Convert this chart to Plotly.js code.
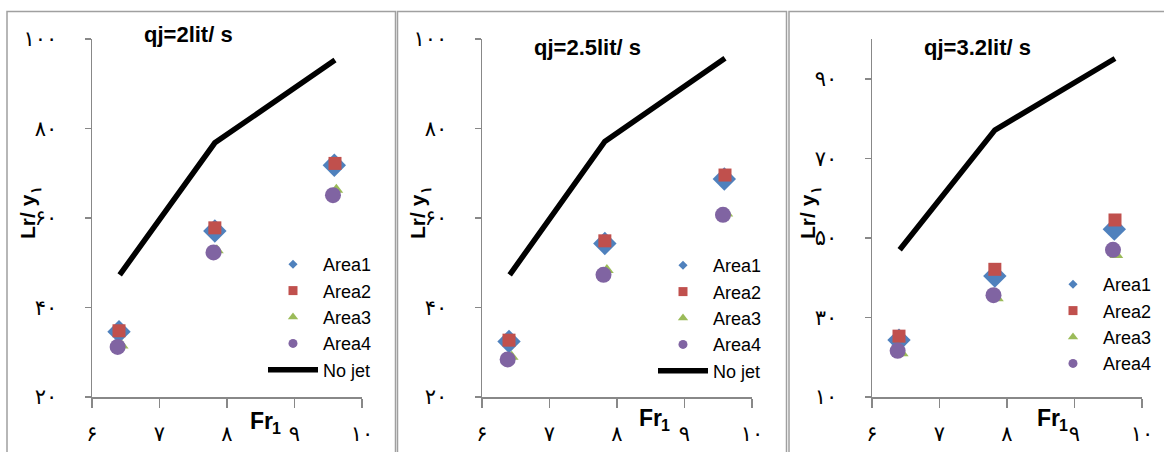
<!DOCTYPE html>
<html><head><meta charset="utf-8">
<script src="https://cdn.plot.ly/plotly-3.0.1.min.js"></script>
<style>html,body{margin:0;padding:0;background:#fff}</style>
</head><body><div id="chart" style="width:1164px;height:452px"></div>
<script>
// ---- data ----
const panelTitles = ['qj=2lit/ s', 'qj=2.5lit/ s', 'qj=3.2lit/ s'];
const seriesNames = ['Area1', 'Area2', 'Area3', 'Area4'];
const noJetName = 'No jet';
const noJetFr = [6.41, 7.82, 9.6];
const noJet_p1 = [47.3, 76.8, 95.3];
const noJet_p2 = [47.3, 77.1, 95.7];
const noJet_p3 = [47.0, 77.1, 95.1];
const fr_area1 = [6.40, 7.82, 9.59];
const fr_area2 = [6.40, 7.82, 9.60];
const fr_area3 = [6.44, 7.85, 9.62];
const fr_area4 = [6.38, 7.80, 9.57];
const p1_area1 = [34.6, 57.1, 71.8];
const p1_area2 = [34.8, 57.8, 72.2];
const p1_area3 = [31.5, 52.8, 66.3];
const p1_area4 = [31.2, 52.3, 65.1];
const p2_area1 = [32.4, 54.3, 68.7];
const p2_area2 = [32.7, 54.9, 69.6];
const p2_area3 = [29.0, 48.4, 61.0];
const p2_area4 = [28.4, 47.3, 60.7];
const p3_area1 = [24.3, 40.4, 52.2];
const p3_area2 = [25.3, 42.1, 54.5];
const p3_area3 = [21.0, 34.8, 45.7];
const p3_area4 = [21.6, 35.6, 47.0];
const xTickVals = [6, 7, 8, 9, 10];
const xTickText = ['۶', '۷', '۸', '۹', '۱۰'];
const yTickVals12 = [20, 40, 60, 80, 100];
const yTickText12 = ['۲۰', '۴۰', '۶۰', '۸۰', '۱۰۰'];
const yTickVals3 = [10, 30, 50, 70, 90];
const yTickText3 = ['۱۰', '۳۰', '۵۰', '۷۰', '۹۰'];
const xTitleMain = 'Fr', xTitleSub = '1';
const yTitleMain = 'Lr/ y', yTitleSub = '۱';

// ---- styles ----
const W = 1164, H = 452;
const px = p => p / W, py = p => 1 - p / H;
const colors = ['#4F81BD', '#C0504D', '#9BBB59', '#8064A2'];
const symbols = ['diamond', 'square', 'triangle-up', 'circle'];
const sizes = [18, 13, 12, 16];
const legSizes = [7, 9, 9, 9];
const narrow = '"Liberation Sans Narrow", "Liberation Sans", Arial, sans-serif';
const arab = '"DejaVu Sans", sans-serif';

const panels = [
  {fr: [fr_area1, fr_area2, fr_area3, fr_area4], y: [p1_area1, p1_area2, p1_area3, p1_area4], nj: noJet_p1, showNoJet: true, legTop: 246},
  {fr: [fr_area1, fr_area2, fr_area3, fr_area4], y: [p2_area1, p2_area2, p2_area3, p2_area4], nj: noJet_p2, showNoJet: true, legTop: 247},
  {fr: [fr_area1, fr_area2, fr_area3, fr_area4], y: [p3_area1, p3_area2, p3_area3, p3_area4], nj: noJet_p3, showNoJet: false, legTop: 266}
];

const traces = [];
const layout = {
  width: W, height: H, autosize: false,
  margin: {l: 0, r: 0, t: 0, b: 0},
  paper_bgcolor: '#fff', plot_bgcolor: 'rgba(0,0,0,0)',
  showlegend: true,
  annotations: [], shapes: []
};

function ann(x, y, text, size, angle, bold) {
  layout.annotations.push({xref: 'paper', yref: 'paper', x: px(x), y: py(y), text: bold ? '<b>' + text + '</b>' : text,
    showarrow: false, textangle: angle || 0, xanchor: 'center', yanchor: 'middle',
    font: {family: narrow, size: size, color: '#000'}});
}

const offs = [0, 390, 780];
panels.forEach((pn, i) => {
  const s = i === 0 ? '' : String(i + 1);
  const xa = 'x' + s, ya = 'y' + s;
  const lg = 'legend' + s;
  traces.push({x: noJetFr, y: pn.nj, xaxis: xa, yaxis: ya, mode: 'lines', name: noJetName,
    line: {color: '#000', width: 5.5}, showlegend: false, hoverinfo: 'skip'});
  for (let k = 0; k < 4; k++) {
    traces.push({x: pn.fr[k], y: pn.y[k], xaxis: xa, yaxis: ya, mode: 'markers', name: seriesNames[k],
      marker: {color: colors[k], symbol: symbols[k], size: sizes[k], line: {width: 0}}, showlegend: false});
  }
  for (let k = 0; k < 4; k++) {
    traces.push({x: [null], y: [null], xaxis: xa, yaxis: ya, mode: 'markers', name: seriesNames[k], legend: lg,
      marker: {color: colors[k], symbol: symbols[k], size: legSizes[k], line: {width: 0}}});
  }
  if (pn.showNoJet) {
    traces.push({x: [null], y: [null], xaxis: xa, yaxis: ya, mode: 'lines', name: noJetName, legend: lg,
      line: {color: '#000', width: 5.5}});
  }
  const o = offs[i];
  layout['xaxis' + s] = {
    domain: [px(o + 92), px(o + 362)], anchor: ya, range: [6, 10],
    tickvals: xTickVals, ticktext: xTickText, ticks: 'outside', ticklen: 9, tickwidth: 1.5, tickcolor: '#888',
    showline: true, linecolor: '#888', linewidth: 1.5, showgrid: false, zeroline: false,
    ticklabelstandoff: 8, tickfont: {family: arab, size: 21, color: '#000'}, fixedrange: true
  };
  layout['yaxis' + s] = {
    domain: [py(397), py(39)], anchor: xa, range: i === 2 ? [10, 100] : [20, 100],
    tickvals: i === 2 ? yTickVals3 : yTickVals12, ticktext: i === 2 ? yTickText3 : yTickText12,
    ticks: 'outside', ticklen: 6, tickwidth: 1.5, tickcolor: '#888',
    showline: true, linecolor: '#888', linewidth: 1.5, showgrid: false, zeroline: false,
    ticklabelstandoff: 23, tickfont: {family: arab, size: 21, color: '#000'}, fixedrange: true
  };
  layout[lg] = {
    x: px(o + 263), y: py(pn.legTop), xanchor: 'left', yanchor: 'top',
    bgcolor: 'rgba(0,0,0,0)', borderwidth: 0, tracegroupgap: 0,
    font: {family: narrow, size: 18, color: '#000'}, itemwidth: 50
  };
  const tpos = [[188, 35], [587, 47], [977, 47]][i];
  ann(tpos[0], tpos[1], panelTitles[i], 22, 0, true);
  const xt = [[261, 421], [650, 418], [1048, 418]][i];
  ann(xt[0], xt[1], xTitleMain, 23, 0, true);
  ann(xt[0] + 15, xt[1] + 7, xTitleSub, 16, 0, true);
  ann(o + 27, 217, yTitleMain, 21, -90, true);
  ann(o + 35, 190, yTitleSub, 15, -90, true);
});

[[7, 395.5], [397.5, 786.5], [789, 1175]].forEach(b => {
  layout.shapes.push({type: 'rect', xref: 'paper', yref: 'paper', x0: px(b[0]), x1: px(b[1]), y0: py(11.5), y1: -0.2,
    line: {color: '#a0a0a0', width: 1.5}, fillcolor: 'rgba(0,0,0,0)', layer: 'below'});
});

Plotly.newPlot('chart', traces, layout, {displayModeBar: false, staticPlot: true});
</script>
</body></html>
